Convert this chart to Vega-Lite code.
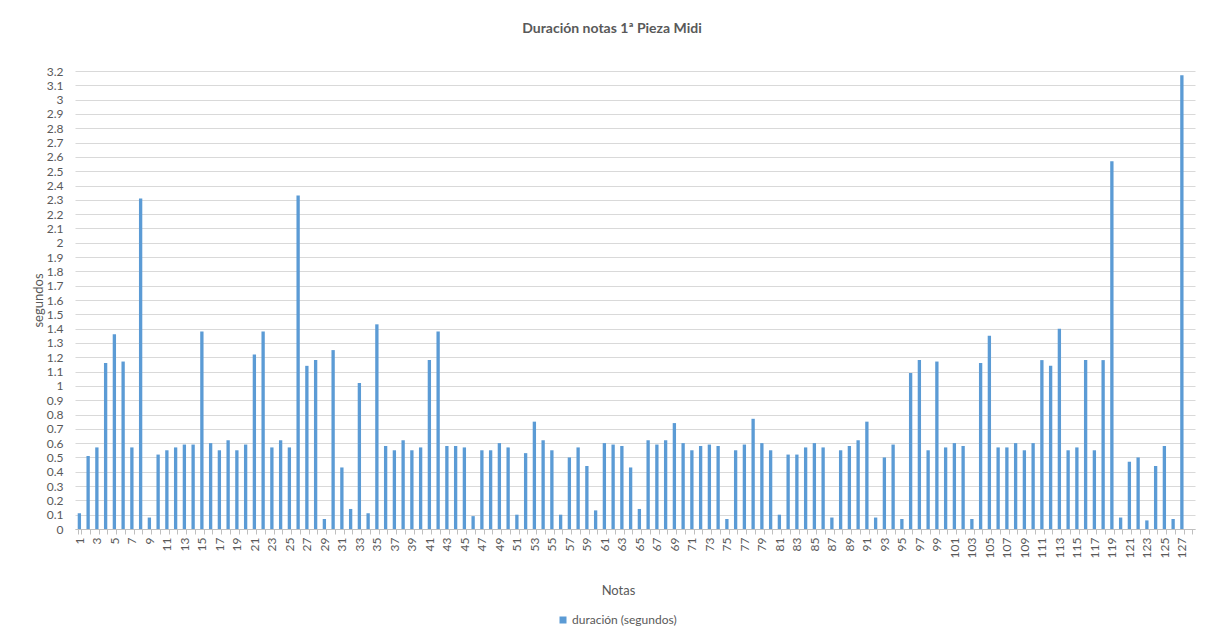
{
  "$schema": "https://vega.github.io/schema/vega-lite/v6.json",
  "width": 1120,
  "height": 458,
  "autosize": {"type": "none"},
  "padding": {"left": 75, "top": 71, "right": 21, "bottom": 110},
  "background": "white",
  "title": {
    "text": "Duración notas 1ª Pieza Midi",
    "anchor": "middle",
    "dx": -23,
    "offset": 29,
    "font": "Lato",
    "fontSize": 14,
    "fontWeight": "bold",
    "color": "#595959"
  },
  "data": {
    "values": [
      {"nota": 1, "duracion": 0.11}, {"nota": 2, "duracion": 0.51}, {"nota": 3, "duracion": 0.57},
      {"nota": 4, "duracion": 1.16}, {"nota": 5, "duracion": 1.36}, {"nota": 6, "duracion": 1.17},
      {"nota": 7, "duracion": 0.57}, {"nota": 8, "duracion": 2.31}, {"nota": 9, "duracion": 0.08},
      {"nota": 10, "duracion": 0.52}, {"nota": 11, "duracion": 0.55}, {"nota": 12, "duracion": 0.57},
      {"nota": 13, "duracion": 0.59}, {"nota": 14, "duracion": 0.59}, {"nota": 15, "duracion": 1.38},
      {"nota": 16, "duracion": 0.6}, {"nota": 17, "duracion": 0.55}, {"nota": 18, "duracion": 0.62},
      {"nota": 19, "duracion": 0.55}, {"nota": 20, "duracion": 0.59}, {"nota": 21, "duracion": 1.22},
      {"nota": 22, "duracion": 1.38}, {"nota": 23, "duracion": 0.57}, {"nota": 24, "duracion": 0.62},
      {"nota": 25, "duracion": 0.57}, {"nota": 26, "duracion": 2.33}, {"nota": 27, "duracion": 1.14},
      {"nota": 28, "duracion": 1.18}, {"nota": 29, "duracion": 0.07}, {"nota": 30, "duracion": 1.25},
      {"nota": 31, "duracion": 0.43}, {"nota": 32, "duracion": 0.14}, {"nota": 33, "duracion": 1.02},
      {"nota": 34, "duracion": 0.11}, {"nota": 35, "duracion": 1.43}, {"nota": 36, "duracion": 0.58},
      {"nota": 37, "duracion": 0.55}, {"nota": 38, "duracion": 0.62}, {"nota": 39, "duracion": 0.55},
      {"nota": 40, "duracion": 0.57}, {"nota": 41, "duracion": 1.18}, {"nota": 42, "duracion": 1.38},
      {"nota": 43, "duracion": 0.58}, {"nota": 44, "duracion": 0.58}, {"nota": 45, "duracion": 0.57},
      {"nota": 46, "duracion": 0.09}, {"nota": 47, "duracion": 0.55}, {"nota": 48, "duracion": 0.55},
      {"nota": 49, "duracion": 0.6}, {"nota": 50, "duracion": 0.57}, {"nota": 51, "duracion": 0.1},
      {"nota": 52, "duracion": 0.53}, {"nota": 53, "duracion": 0.75}, {"nota": 54, "duracion": 0.62},
      {"nota": 55, "duracion": 0.55}, {"nota": 56, "duracion": 0.1}, {"nota": 57, "duracion": 0.5},
      {"nota": 58, "duracion": 0.57}, {"nota": 59, "duracion": 0.44}, {"nota": 60, "duracion": 0.13},
      {"nota": 61, "duracion": 0.6}, {"nota": 62, "duracion": 0.59}, {"nota": 63, "duracion": 0.58},
      {"nota": 64, "duracion": 0.43}, {"nota": 65, "duracion": 0.14}, {"nota": 66, "duracion": 0.62},
      {"nota": 67, "duracion": 0.59}, {"nota": 68, "duracion": 0.62}, {"nota": 69, "duracion": 0.74},
      {"nota": 70, "duracion": 0.6}, {"nota": 71, "duracion": 0.55}, {"nota": 72, "duracion": 0.58},
      {"nota": 73, "duracion": 0.59}, {"nota": 74, "duracion": 0.58}, {"nota": 75, "duracion": 0.07},
      {"nota": 76, "duracion": 0.55}, {"nota": 77, "duracion": 0.59}, {"nota": 78, "duracion": 0.77},
      {"nota": 79, "duracion": 0.6}, {"nota": 80, "duracion": 0.55}, {"nota": 81, "duracion": 0.1},
      {"nota": 82, "duracion": 0.52}, {"nota": 83, "duracion": 0.52}, {"nota": 84, "duracion": 0.57},
      {"nota": 85, "duracion": 0.6}, {"nota": 86, "duracion": 0.57}, {"nota": 87, "duracion": 0.08},
      {"nota": 88, "duracion": 0.55}, {"nota": 89, "duracion": 0.58}, {"nota": 90, "duracion": 0.62},
      {"nota": 91, "duracion": 0.75}, {"nota": 92, "duracion": 0.08}, {"nota": 93, "duracion": 0.5},
      {"nota": 94, "duracion": 0.59}, {"nota": 95, "duracion": 0.07}, {"nota": 96, "duracion": 1.09},
      {"nota": 97, "duracion": 1.18}, {"nota": 98, "duracion": 0.55}, {"nota": 99, "duracion": 1.17},
      {"nota": 100, "duracion": 0.57}, {"nota": 101, "duracion": 0.6}, {"nota": 102, "duracion": 0.58},
      {"nota": 103, "duracion": 0.07}, {"nota": 104, "duracion": 1.16}, {"nota": 105, "duracion": 1.35},
      {"nota": 106, "duracion": 0.57}, {"nota": 107, "duracion": 0.57}, {"nota": 108, "duracion": 0.6},
      {"nota": 109, "duracion": 0.55}, {"nota": 110, "duracion": 0.6}, {"nota": 111, "duracion": 1.18},
      {"nota": 112, "duracion": 1.14}, {"nota": 113, "duracion": 1.4}, {"nota": 114, "duracion": 0.55},
      {"nota": 115, "duracion": 0.57}, {"nota": 116, "duracion": 1.18}, {"nota": 117, "duracion": 0.55},
      {"nota": 118, "duracion": 1.18}, {"nota": 119, "duracion": 2.57}, {"nota": 120, "duracion": 0.08},
      {"nota": 121, "duracion": 0.47}, {"nota": 122, "duracion": 0.5}, {"nota": 123, "duracion": 0.06},
      {"nota": 124, "duracion": 0.44}, {"nota": 125, "duracion": 0.58}, {"nota": 126, "duracion": 0.07},
      {"nota": 127, "duracion": 3.17}
    ]
  },
  "mark": {"type": "bar"},
  "encoding": {
    "x": {
      "field": "nota",
      "type": "ordinal",
      "scale": {
        "domain": [1, 2, 3, 4, 5, 6, 7, 8, 9, 10, 11, 12, 13, 14, 15, 16, 17, 18, 19, 20, 21, 22, 23, 24, 25, 26, 27, 28, 29, 30, 31, 32, 33, 34, 35, 36, 37, 38, 39, 40, 41, 42, 43, 44, 45, 46, 47, 48, 49, 50, 51, 52, 53, 54, 55, 56, 57, 58, 59, 60, 61, 62, 63, 64, 65, 66, 67, 68, 69, 70, 71, 72, 73, 74, 75, 76, 77, 78, 79, 80, 81, 82, 83, 84, 85, 86, 87, 88, 89, 90, 91, 92, 93, 94, 95, 96, 97, 98, 99, 100, 101, 102, 103, 104, 105, 106, 107, 108, 109, 110, 111, 112, 113, 114, 115, 116, 117, 118, 119, 120, 121, 122, 123, 124, 125, 126, 127, 128],
        "paddingInner": 0.62,
        "paddingOuter": 0.31
      },
      "axis": {
        "title": "Notas",
        "titleFont": "Lato",
        "titleFontSize": 13,
        "titleFontWeight": "normal",
        "titleColor": "#595959",
        "titleX": 543,
        "titleY": 61,
        "titleBaseline": "middle",
        "labelAngle": 270,
        "labelExpr": "datum.value % 2 == 1 ? datum.label : ''",
        "labelFont": "Lato",
        "labelFontSize": 12,
        "labelColor": "#595959",
        "labelPadding": 3,
        "labelOverlap": false,
        "labelBound": false,
        "tickBand": "extent",
        "tickColor": "#BFBFBF",
        "tickSize": 5,
        "domainColor": "#BFBFBF",
        "grid": false
      }
    },
    "y": {
      "field": "duracion",
      "type": "quantitative",
      "scale": {"domain": [0, 3.2], "nice": false},
      "axis": {
        "title": "segundos",
        "titleFont": "Lato",
        "titleFontSize": 13,
        "titleFontWeight": "normal",
        "titleColor": "#595959",
        "titleX": -37,
        "titleY": 229,
        "titleBaseline": "middle",
        "titleAlign": "center",
        "values": [0, 0.1, 0.2, 0.3, 0.4, 0.5, 0.6, 0.7, 0.8, 0.9, 1, 1.1, 1.2, 1.3, 1.4, 1.5, 1.6, 1.7, 1.8, 1.9, 2, 2.1, 2.2, 2.3, 2.4, 2.5, 2.6, 2.7, 2.8, 2.9, 3, 3.1, 3.2],
        "format": ".1~f",
        "labelFont": "Lato",
        "labelFontSize": 12,
        "labelColor": "#595959",
        "labelPadding": 12,
        "ticks": false,
        "domain": false,
        "grid": true,
        "gridColor": "#D9D9D9",
        "gridWidth": 1
      }
    },
    "color": {
      "datum": "duración (segundos)",
      "type": "nominal",
      "scale": {"range": ["#5B9BD5"]},
      "legend": {
        "title": null,
        "orient": "none",
        "legendX": 482,
        "legendY": 543,
        "symbolType": "square",
        "symbolSize": 49,
        "symbolStrokeWidth": 0,
        "labelFont": "Lato",
        "labelFontSize": 12,
        "labelColor": "#595959",
        "labelOffset": 3
      }
    }
  },
  "config": {
    "view": {"stroke": null}
  }
}
